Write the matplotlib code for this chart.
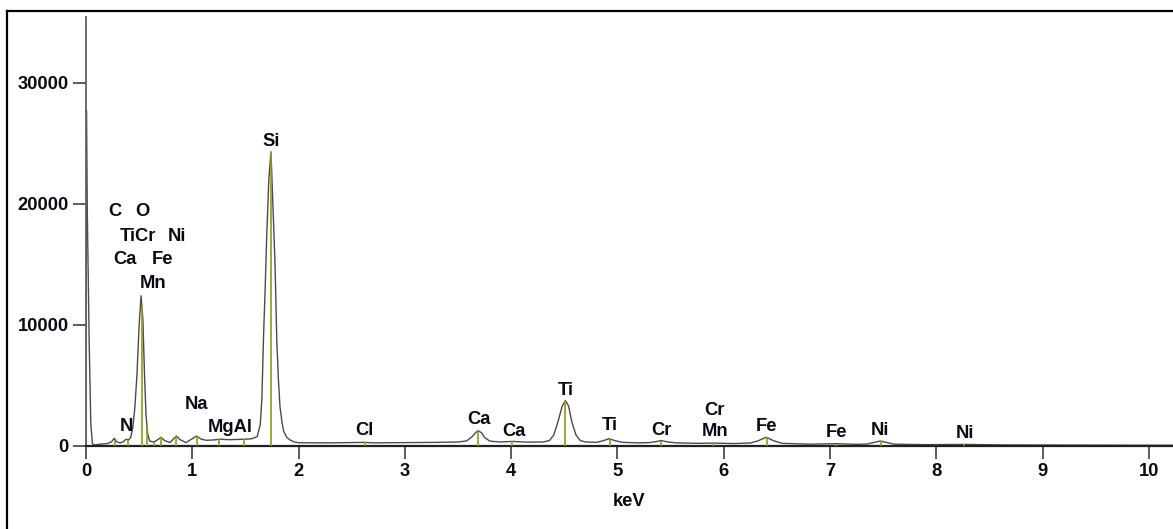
import numpy as np
import matplotlib
matplotlib.use("Agg")
import matplotlib.pyplot as plt
from matplotlib.lines import Line2D

# ---- spectrum ----
energy_keV = [
    0.000, 0.004, 0.012, 0.030, 0.045, 0.060, 0.080, 0.130, 0.200, 0.240,
    0.265, 0.290, 0.320, 0.350, 0.375, 0.400, 0.420, 0.440, 0.460, 0.480,
    0.500, 0.518, 0.535, 0.550, 0.565, 0.580, 0.600, 0.640, 0.680, 0.705,
    0.740, 0.790, 0.830, 0.850, 0.880, 0.940, 1.000, 1.040, 1.080, 1.130,
    1.200, 1.260, 1.350, 1.490, 1.560, 1.610, 1.640, 1.655, 1.670, 1.685,
    1.700, 1.720, 1.740, 1.760, 1.778, 1.795, 1.810, 1.825, 1.845, 1.860,
    1.890, 1.920, 1.960, 2.000, 2.300, 2.620, 2.700, 3.000, 3.300, 3.500,
    3.580, 3.630, 3.670, 3.690, 3.720, 3.750, 3.800, 3.900, 4.010, 4.150,
    4.300, 4.360, 4.400, 4.440, 4.480, 4.510, 4.540, 4.570, 4.610, 4.650,
    4.700, 4.800, 4.860, 4.920, 4.980, 5.050, 5.200, 5.300, 5.360, 5.410,
    5.470, 5.550, 5.750, 5.900, 6.100, 6.250, 6.320, 6.400, 6.470, 6.550,
    6.800, 7.060, 7.250, 7.350, 7.410, 7.470, 7.530, 7.600, 7.900, 8.260,
    8.600, 9.000, 9.500, 10.000, 10.230,
]
counts = [
    0, 27700, 19500, 8500, 1900, 200, 80, 150, 200, 350,
    630, 350, 250, 350, 550, 500, 700, 1500, 3200, 6000,
    10000, 12400, 10500, 6000, 2500, 1000, 400, 330, 550, 720,
    450, 280, 650, 830, 550, 280, 600, 830, 580, 470,
    500, 560, 520, 560, 600, 770, 1800, 4000, 9000, 12900,
    17300, 22000, 24300, 19500, 15100, 8700, 5500, 3250, 1900, 1200,
    700, 500, 330, 270, 260, 300, 260, 280, 300, 330,
    420, 750, 1150, 1260, 1100, 700, 400, 330, 380, 320,
    330, 450, 900, 2000, 3300, 3750, 3300, 2000, 900, 450,
    330, 300, 420, 600, 430, 300, 260, 280, 360, 450,
    340, 260, 220, 240, 200, 250, 420, 720, 430, 220,
    150, 190, 140, 160, 290, 410, 300, 150, 110, 130,
    90, 80, 70, 60, 60,
]

# ---- element line markers (keV) ----
marker_keV = [0.277, 0.392, 0.525, 0.573, 0.637, 0.705, 0.851, 1.041, 1.254,
              1.487, 1.740, 2.622, 3.691, 4.012, 4.510, 4.931, 5.414, 5.898,
              6.403, 7.057, 7.477, 8.264]

# ---- peak labels: text, keV, counts (label placement) ----
label_text = ["C", "O", "TiCr", "Ni", "Ca", "Fe", "Mn", "N", "Na", "MgAl",
              "Si", "Cl", "Ca", "Ca", "Ti", "Ti", "Cr", "Cr", "Mn", "Fe",
              "Fe", "Ni", "Ni"]
label_x = [0.273, 0.527, 0.489, 0.856, 0.367, 0.715, 0.630, 0.376, 1.044, 1.355,
           1.740, 2.615, 3.697, 4.026, 4.516, 4.930, 5.416, 5.908, 5.917, 6.403,
           7.065, 7.470, 8.270]
label_y = [19340, 19340, 17260, 17260, 15360, 15360, 13380, 1570, 3390, 1490,
           25130, 1320, 2150, 1180, 4620, 1730, 1270, 2970, 1180, 1600,
           1100, 1270, 1050]

x_ticks = [0, 1, 2, 3, 4, 5, 6, 7, 8, 9, 10]
y_ticks = [0, 10000, 20000, 30000]

FS = 13.2
W, H = 1173, 529
fig = plt.figure(figsize=(W / 100, H / 100), dpi=100)
ax = fig.add_axes([86 / W, 83 / H, 1087 / W, 429 / H])

ax.plot(energy_keV, counts, color="#4a4a4a", lw=1.0, zorder=2)
mh = np.interp(marker_keV, energy_keV, counts)
ax.vlines(marker_keV, 0, mh, color="#96961a", lw=1.2, zorder=3)

for t, x, y in zip(label_text, label_x, label_y):
    ax.text(x, y, t, ha="center", va="center", fontsize=FS,
            fontweight="bold", family="Liberation Sans", color="#0a0a14",
            zorder=4)

ax.set_xlim(0, 10.226)
ax.set_ylim(0, 35425)
ax.set_xticks(x_ticks)
ax.set_yticks(y_ticks)
ax.set_xticklabels([str(v) for v in x_ticks])
ax.set_yticklabels([str(v) for v in y_ticks])
for lab in ax.get_xticklabels() + ax.get_yticklabels():
    lab.set_fontweight("bold")
    lab.set_family("Liberation Sans")
    lab.set_fontsize(FS)
    lab.set_color("#0a0a14")
ax.tick_params(axis="both", direction="out", length=9.4, width=1.2,
               color="#404040", pad=3)
ax.set_xlabel("keV", fontsize=FS, fontweight="bold", family="Liberation Sans",
              color="#0a0a14", labelpad=9)

for s in ["top", "right"]:
    ax.spines[s].set_visible(False)
ax.spines["left"].set_color("#606060")
ax.spines["left"].set_linewidth(1.3)
ax.spines["bottom"].set_color("#202020")
ax.spines["bottom"].set_linewidth(1.6)

# outer frame (left and top edges)
fig.add_artist(Line2D([7.3 / W, 7.3 / W], [0, 1 - 10.5 / H], color="black",
                      lw=1.6, transform=fig.transFigure))
fig.add_artist(Line2D([7.3 / W, 1], [1 - 10.5 / H, 1 - 10.5 / H], color="black",
                      lw=1.6, transform=fig.transFigure))

fig.savefig("out.png", dpi=100)
